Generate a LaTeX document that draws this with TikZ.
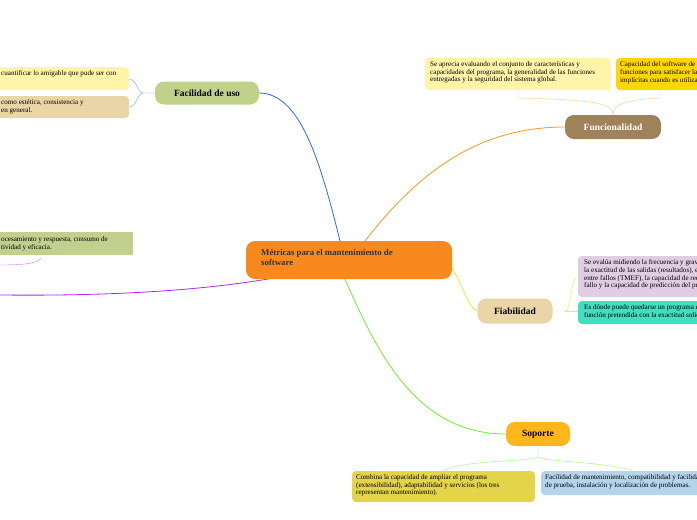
\documentclass[tikz,border=0pt]{standalone}
\usepackage{fontspec}
\setmainfont{Liberation Serif}
\definecolor{cOr}{RGB}{247,137,31}
\definecolor{cFu}{RGB}{194,209,138}
\definecolor{cYl}{RGB}{255,244,168}
\definecolor{cTan}{RGB}{233,213,166}
\definecolor{cLg}{RGB}{194,207,141}
\definecolor{cBr}{RGB}{160,130,90}
\definecolor{cGold}{RGB}{255,215,0}
\definecolor{cLav}{RGB}{224,205,227}
\definecolor{cTeal}{RGB}{62,224,192}
\definecolor{cSo}{RGB}{255,182,26}
\definecolor{cMus}{RGB}{227,212,74}
\definecolor{cLb}{RGB}{179,212,234}
\definecolor{lBlueT}{RGB}{120,160,255}
\definecolor{lPur}{RGB}{200,120,255}
\definecolor{lOrT}{RGB}{250,200,140}
\definecolor{lYgT}{RGB}{220,240,80}
\definecolor{lGrT}{RGB}{160,240,120}
\definecolor{lBlue}{RGB}{40,100,255}
\definecolor{lOr}{RGB}{255,150,20}
\definecolor{lYg}{RGB}{220,245,60}
\definecolor{lGr}{RGB}{110,240,40}
\definecolor{lPu}{RGB}{170,40,255}
\begin{document}
\begin{tikzpicture}[x=1pt,y=-1pt,
  topic/.style={rounded corners=9pt,font=\bfseries\fontsize{9.5}{11}\selectfont,inner sep=0pt},
  txt/.style={font=\fontsize{7.1}{7.9}\selectfont,align=left,anchor=north west,inner sep=0pt}]
\useasboundingbox (0,0) rectangle (697,520);
\clip (0,0) rectangle (697,520);
% main connectors
\draw[lBlue,thick] (340,241) .. controls (320,160) and (300,93) .. (259,93);
\draw[lOr,thick] (365,241) .. controls (420,170) and (480,127) .. (565,127);
\draw[lYg,thick] (452,268) .. controls (465,290) and (470,311) .. (478,311);
\draw[lGr,thick] (345,279) .. controls (380,360) and (420,434) .. (506,434);
\draw[lPu,thick] (285,276) .. controls (200,292) and (100,296) .. (0,295);
% central
\node[topic,fill=cOr,minimum width=206pt,minimum height=38pt] (c) at (349,260) {};
\node[txt,font=\bfseries\fontsize{8.8}{10.5}\selectfont,text=black!80] (ct) at (261,249) {Métricas para el mantenimiento de\\software};
% Facilidad de uso
\node[topic,fill=cFu,minimum width=104pt,minimum height=23pt] (fu) at (207,93) {Facilidad de uso};
\fill[cYl,rounded corners=4pt] (-10,67) rectangle (129,90);
\node[txt] (fu1) at (1,70) {cuantificar lo amigable que pude ser con};
\fill[cTan,rounded corners=4pt] (-10,96) rectangle (129,118);
\node[txt] (fu2) at (1,99) {como estética, consistencia y\\en general.};
\draw[lBlueT] (fu.west) -- (143,93) .. controls (137,93) and (137,79) .. (129,79);
\draw[lBlueT] (143,93) .. controls (137,93) and (137,107) .. (129,107);
% left green box
\fill[cLg] (-10,232) rectangle (133,255);
\node[txt] (lg) at (1,236) {ocesamiento y respuesta, consumo de\\tividad y eficacia.};
\draw[lPur] (41,258) .. controls (38,264) and (20,265) .. (0,265);
% Funcionalidad
\draw[lOrT] (613,115) .. controls (613,104) and (600,100) .. (518,98) -- (518,90);
\draw[lOrT] (613,115) .. controls (613,104) and (625,100) .. (660,98) -- (660,90);
\node[topic,fill=cBr,text=white,minimum width=96pt,minimum height=24pt] (fn) at (613,127) {Funcionalidad};
\fill[cYl,rounded corners=4pt] (425,58) rectangle (611,90);
\node[txt] (fn1) at (430,61) {Se aprecia evaluando el conjunto de características y\\capacidades del programa, la generalidad de las funciones\\entregadas y la seguridad del sistema global.};
\fill[cGold,rounded corners=4pt] (616,58) rectangle (720,90);
\node[txt] (fn2) at (620,61) {Capacidad del software de proporcionar\\funciones para satisfacer las necesidades\\implícitas cuando es utilizado};
% Fiabilidad
\node[topic,fill=cTan,minimum width=75pt,minimum height=25pt] (fi) at (515,311) {Fiabilidad};
\draw[lYgT] (fi.east) -- (565,311) .. controls (572,311) and (570,277) .. (578,277);
\draw[lYgT] (565,311) -- (578,311);
\fill[cLav,rounded corners=4pt] (578,256) rectangle (720,297);
\node[txt] (fi1) at (584,259) {Se evalúa midiendo la frecuencia y gravedad de los fallos,\\la exactitud de las salidas (resultados), el tiempo medio\\entre fallos (TMEF), la capacidad de recuperación ante el\\fallo y la capacidad de predicción del programa.};
\fill[cTeal,rounded corners=4pt] (578,301) rectangle (720,324);
\node[txt] (fi2) at (584,304) {Es dónde puede quedarse un programa que ejecute una\\función pretendida con la exactitud solicitada.};
% Soporte
\node[topic,fill=cSo,minimum width=64pt,minimum height=24pt] (so) at (538,434) {Soporte};
\draw[lGrT] (so.south) -- (538,457) .. controls (530,462) and (460,460) .. (444,471);
\draw[lGrT] (538,457) .. controls (546,462) and (610,462) .. (633,471);
\fill[cMus,rounded corners=4pt] (352,471) rectangle (535,502);
\node[txt] (so1) at (356,474) {Combina la capacidad de ampliar el programa\\(extensibilidad), adaptabilidad y servicios (los tres\\representan mantenimiento).};
\fill[cLb,rounded corners=4pt] (541,471) rectangle (720,495);
\node[txt] (so2) at (545,474) {Facilidad de mantenimiento, compatibilidad y facilidad de configuración,\\de prueba, instalación y localización de problemas.};
\end{tikzpicture}
\end{document}
